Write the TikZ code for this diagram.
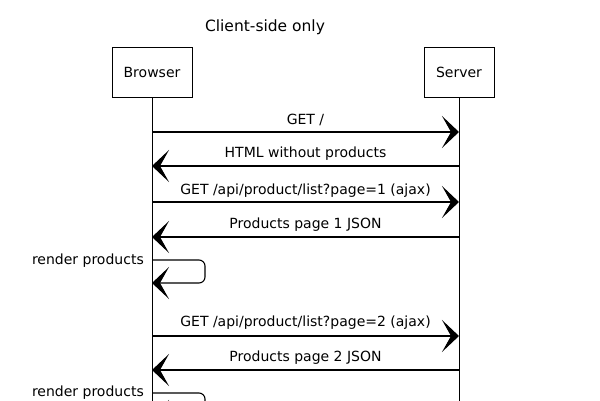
\documentclass[tikz,border=0pt]{standalone}
\usepackage{fontspec}
\setmainfont{DejaVu Sans}
\usetikzlibrary{arrows.meta}
\begin{document}
\begin{tikzpicture}[x=1pt,y=-1pt,
  actor/.style={draw, line width=0.9pt, minimum height=50pt, inner sep=0pt, font=\fontsize{14}{16}\selectfont},
  lbl/.style={font=\fontsize{14}{16}\selectfont, inner sep=0pt},
  msg/.style={line width=1.1pt, -{Stealth[length=17pt,width=32pt,inset=9pt]}},
  life/.style={line width=0.9pt}]
\useasboundingbox (0,0) rectangle (600,400);
\clip (0,0) rectangle (600,400);
\node[lbl, font=\fontsize{15.5}{18}\selectfont] (title) at (265,27) {Client-side only};
\node[actor, minimum width=80pt] (browser) at (152,72) {Browser};
\node[actor, minimum width=70pt] (server) at (459,72) {Server};
\coordinate (bend) at (152,410);
\coordinate (send) at (459,410);
\draw[life] (browser.south) -- (bend);
\draw[life] (server.south) -- (send);
% messages
\foreach \n/\y in {1/132,2/166,3/202,4/237,5/336,6/370}{
  \coordinate (b\n) at (152,\y);
  \coordinate (s\n) at (459,\y);
}
\draw[msg] (b1) -- (s1) node[lbl, midway, above=6pt] (m1) {GET /};
\draw[msg] (s2) -- (b2) node[lbl, midway, above=5pt] (m2) {HTML without products};
\draw[msg] (b3) -- (s3) node[lbl, midway, above=4pt] (m3) {GET /api/product/list?page=1 (ajax)};
\draw[msg] (s4) -- (b4) node[lbl, midway, above=5pt] (m4) {Products page 1 JSON};
\draw[msg] (b5) -- (s5) node[lbl, midway, above=6pt] (m5) {GET /api/product/list?page=2 (ajax)};
\draw[msg] (s6) -- (b6) node[lbl, midway, above=5pt] (m6) {Products page 2 JSON};
% self loops
\coordinate (r1a) at (152,260);
\coordinate (r1b) at (152,283);
\coordinate (r2a) at (152,393);
\coordinate (r2b) at (152,416);
\draw[msg, rounded corners=6pt] (r1a) -- ++(53,0) -- ++(0,23) -- (r1b);
\draw[msg, rounded corners=6pt] (r2a) -- ++(53,0) -- ++(0,23) -- (r2b);
\node[lbl, anchor=east] (rp1) at (144,261) {render products};
\node[lbl, anchor=east] (rp2) at (144,393) {render products};
\end{tikzpicture}
\end{document}
